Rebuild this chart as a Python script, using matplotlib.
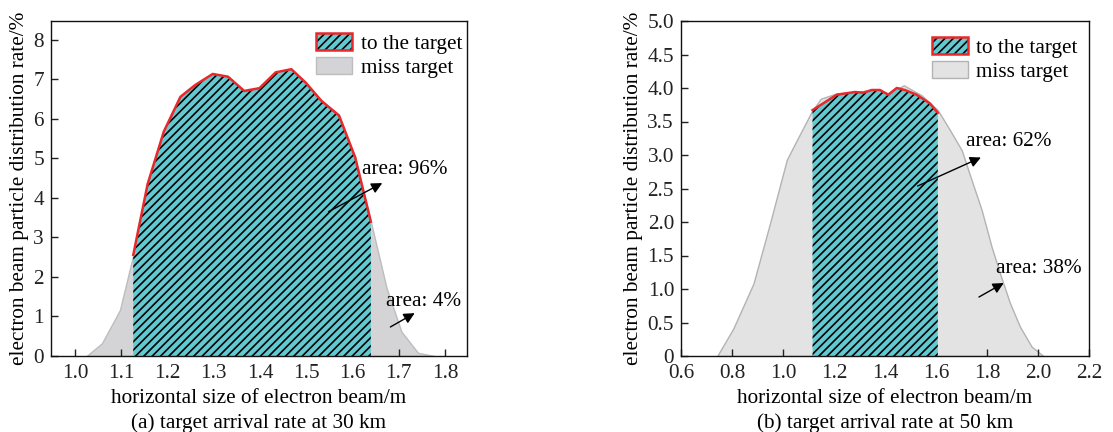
import matplotlib
matplotlib.use("Agg")
import matplotlib.pyplot as plt
from matplotlib.patches import Patch
from matplotlib.ticker import FuncFormatter

plt.rcParams['font.family'] = ['Liberation Serif', 'DejaVu Serif']
plt.rcParams['hatch.linewidth'] = 1.2
plt.rcParams['hatch.color'] = 'black'

# ---- (a) 30 km ----
hit_x_a = [1.126, 1.157, 1.192, 1.228, 1.260, 1.298, 1.331, 1.366, 1.399, 1.434,
           1.468, 1.499, 1.533, 1.571, 1.606, 1.640]
hit_y_a = [2.56, 4.35, 5.68, 6.56, 6.86, 7.14, 7.07, 6.71, 6.78, 7.18,
           7.26, 6.92, 6.46, 6.09, 5.03, 3.40]
miss_left_x_a = [1.025, 1.058, 1.097]
miss_left_y_a = [0.0, 0.32, 1.16]
miss_right_x_a = [1.674, 1.706, 1.742, 1.777]
miss_right_y_a = [1.72, 0.62, 0.08, 0.0]

# ---- (b) 50 km ----
miss_x_b = [0.742, 0.805, 0.884, 0.949, 1.015, 1.054, 1.113, 1.148, 1.211, 1.282,
            1.348, 1.413, 1.474, 1.544, 1.607, 1.655, 1.701, 1.740, 1.779, 1.818,
            1.851, 1.890, 1.929, 1.975, 2.021]
miss_y_b = [0.0, 0.41, 1.08, 1.98, 2.93, 3.22, 3.65, 3.84, 3.92, 3.94,
            3.97, 3.92, 4.04, 3.89, 3.67, 3.37, 3.07, 2.62, 2.18, 1.63,
            1.23, 0.79, 0.44, 0.14, 0.0]
hit_x_b = [1.116, 1.211, 1.282, 1.315, 1.348, 1.380, 1.413, 1.446, 1.478, 1.524,
           1.576, 1.607]
hit_y_b = [3.67, 3.90, 3.94, 3.93, 3.97, 3.97, 3.90, 4.00, 3.97, 3.90,
           3.77, 3.63]

cyan = '#62c9d1'
red = '#e8282a'
hatch = '////'

fig = plt.figure(figsize=(11.13, 4.32), dpi=100)
ax1 = fig.add_axes([51/1113, 76/432, 416/1113, 335/432])
ax2 = fig.add_axes([681/1113, 76/432, 408/1113, 335/432])


def draw(ax, mx, my, hx, hy, gray, edge):
    ax.fill_between(mx, my, 0, facecolor=gray, edgecolor=edge, linewidth=1, zorder=1)
    ax.fill_between(hx, hy, 0, facecolor=cyan, edgecolor='black', linewidth=0,
                    hatch=hatch, zorder=2)
    ax.plot(hx, hy, color=red, lw=1.8, zorder=3)
    h1 = (Patch(facecolor=cyan, edgecolor='black', linewidth=0, hatch=hatch),
          Patch(facecolor='none', edgecolor=red, linewidth=1.8))
    h2 = Patch(facecolor=gray, edgecolor=edge, linewidth=1)
    return h1, h2


mx_a = miss_left_x_a + hit_x_a + miss_right_x_a
my_a = miss_left_y_a + hit_y_a + miss_right_y_a
h1a, h2a = draw(ax1, mx_a, my_a, hit_x_a, hit_y_a, '#d4d4d6', '#bdbdbd')
h1b, h2b = draw(ax2, miss_x_b, miss_y_b, hit_x_b, hit_y_b, '#e3e3e3', '#b3b3b3')

fs = 15.3
for ax, h1, h2, lx, ly in [(ax1, h1a, h2a, 0.637, 0.963), (ax2, h1b, h2b, 0.6145, 0.953)]:
    ax.legend([h1, h2], ['to the target', 'miss target'], loc='upper left',
              bbox_to_anchor=(lx, ly), borderaxespad=0, borderpad=0, frameon=False,
              fontsize=fs, handlelength=1.7, handleheight=0.85, labelspacing=0.15,
              handletextpad=0.4)
    ax.tick_params(direction='in', length=5, width=1, labelsize=fs, top=False, right=False,
                   colors='#222222')
    ax.tick_params(axis='x', pad=6)
    ax.tick_params(axis='y', pad=5)
    for s in ax.spines.values():
        s.set_linewidth(1)
        s.set_color('#111111')
    ax.set_ylabel('electron beam particle distribution rate/%', fontsize=fs, labelpad=3)
    ax.set_xlabel('horizontal size of electron beam/m', fontsize=fs, labelpad=4)

ax1.set_xlim(0.948, 1.848)
ax1.set_ylim(0, 8.48)
ax1.set_xticks([1.0, 1.1, 1.2, 1.3, 1.4, 1.5, 1.6, 1.7, 1.8])
ax1.set_yticks(range(0, 9))
ax1.xaxis.set_major_formatter(FuncFormatter(lambda v, p: '%.1f' % v))

ax2.set_xlim(0.6, 2.2)
ax2.set_ylim(0, 5.0)
ax2.set_xticks([0.6, 0.8, 1.0, 1.2, 1.4, 1.6, 1.8, 2.0, 2.2])
ax2.set_yticks([0, 0.5, 1, 1.5, 2, 2.5, 3, 3.5, 4, 4.5, 5])
ax2.xaxis.set_major_formatter(FuncFormatter(lambda v, p: '%.1f' % v))
ax2.yaxis.set_major_formatter(FuncFormatter(lambda v, p: '0' if v == 0 else '%.1f' % v))

arrow = dict(arrowstyle='-|>', color='black', lw=1, mutation_scale=16)
ax1.annotate('', xy=(1.670, 4.41), xytext=(1.543, 3.62), arrowprops=arrow)
ax1.text(1.620, 4.72, 'area: 96%', fontsize=fs, va='center', ha='left')
ax1.annotate('', xy=(1.740, 1.12), xytext=(1.677, 0.70), arrowprops=arrow)
ax1.text(1.672, 1.37, 'area: 4%', fontsize=fs, va='center', ha='left')

ax2.annotate('', xy=(1.786, 2.98), xytext=(1.518, 2.52), arrowprops=arrow)
ax2.text(1.716, 3.20, 'area: 62%', fontsize=fs, va='center', ha='left')
ax2.annotate('', xy=(1.875, 1.11), xytext=(1.759, 0.86), arrowprops=arrow)
ax2.text(1.836, 1.31, 'area: 38%', fontsize=fs, va='center', ha='left')

ax1.text(0.5, -0.199, '(a) target arrival rate at 30 km', transform=ax1.transAxes,
         fontsize=fs, ha='center', va='center')
ax2.text(0.5, -0.199, '(b) target arrival rate at 50 km', transform=ax2.transAxes,
         fontsize=fs, ha='center', va='center')

fig.savefig('out.png', dpi=100)
